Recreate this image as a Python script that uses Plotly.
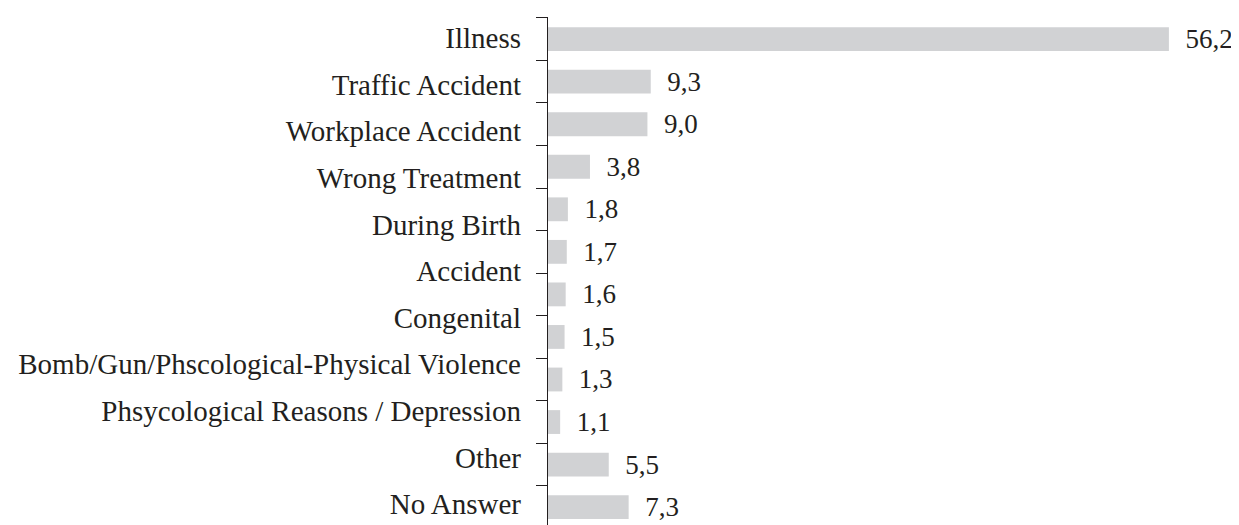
import plotly.graph_objects as go

values = [56.2, 9.3, 9.0, 3.8, 1.8, 1.7, 1.6, 1.5, 1.3, 1.1, 5.5, 7.3]
value_labels = ["56,2", "9,3", "9,0", "3,8", "1,8", "1,7", "1,6", "1,5", "1,3", "1,1", "5,5", "7,3"]
categories = [
    "Illness",
    "Traffic Accident",
    "Workplace Accident",
    "Wrong Treatment",
    "During Birth",
    "Accident",
    "Congenital",
    "Bomb/Gun/Phscological-Physical Violence",
    "Phsycological Reasons / Depression",
    "Other",
    "No Answer",
]

slots = [str(i) for i in range(len(values))]

FONT = "Liberation Serif, Times New Roman, serif"
TXT = "#231f20"

fig = go.Figure()
fig.add_trace(go.Bar(
    x=values,
    y=slots,
    orientation="h",
    marker=dict(color="#d1d2d4", line=dict(width=0)),
    width=0.56,
    text=["\u00a0\u00a0" + t for t in value_labels],
    textposition="outside",
    constraintext="none",
    textfont=dict(family=FONT, size=27, color=TXT),
    cliponaxis=False,
    hoverinfo="skip",
))
# empty trace so the label axis is drawn
fig.add_trace(go.Scatter(
    x=[None], y=[None], yaxis="y2", mode="markers",
    showlegend=False, hoverinfo="skip",
))

fig.update_layout(
    width=1231,
    height=517,
    margin=dict(l=540, r=69, t=9, b=0),
    paper_bgcolor="white",
    plot_bgcolor="white",
    showlegend=False,
    xaxis=dict(visible=False, range=[0, 56.3], fixedrange=True),
    yaxis=dict(
        type="category",
        categoryorder="array",
        categoryarray=slots,
        range=[11.42, -0.52],
        tickson="boundaries",
        ticks="outside",
        ticklen=11,
        tickwidth=1,
        tickcolor=TXT,
        showticklabels=False,
        showline=True,
        linecolor=TXT,
        linewidth=1,
        showgrid=False,
        zeroline=False,
    ),
    yaxis2=dict(
        overlaying="y",
        side="left",
        anchor="x",
        type="linear",
        range=[10.45, -0.45],
        tickmode="array",
        tickvals=list(range(len(categories))),
        ticktext=categories,
        ticks="",
        showline=False,
        showgrid=False,
        zeroline=False,
        ticklabelstandoff=26,
        tickfont=dict(family=FONT, size=29, color=TXT),
    ),
)

fig.write_html("out.html")
